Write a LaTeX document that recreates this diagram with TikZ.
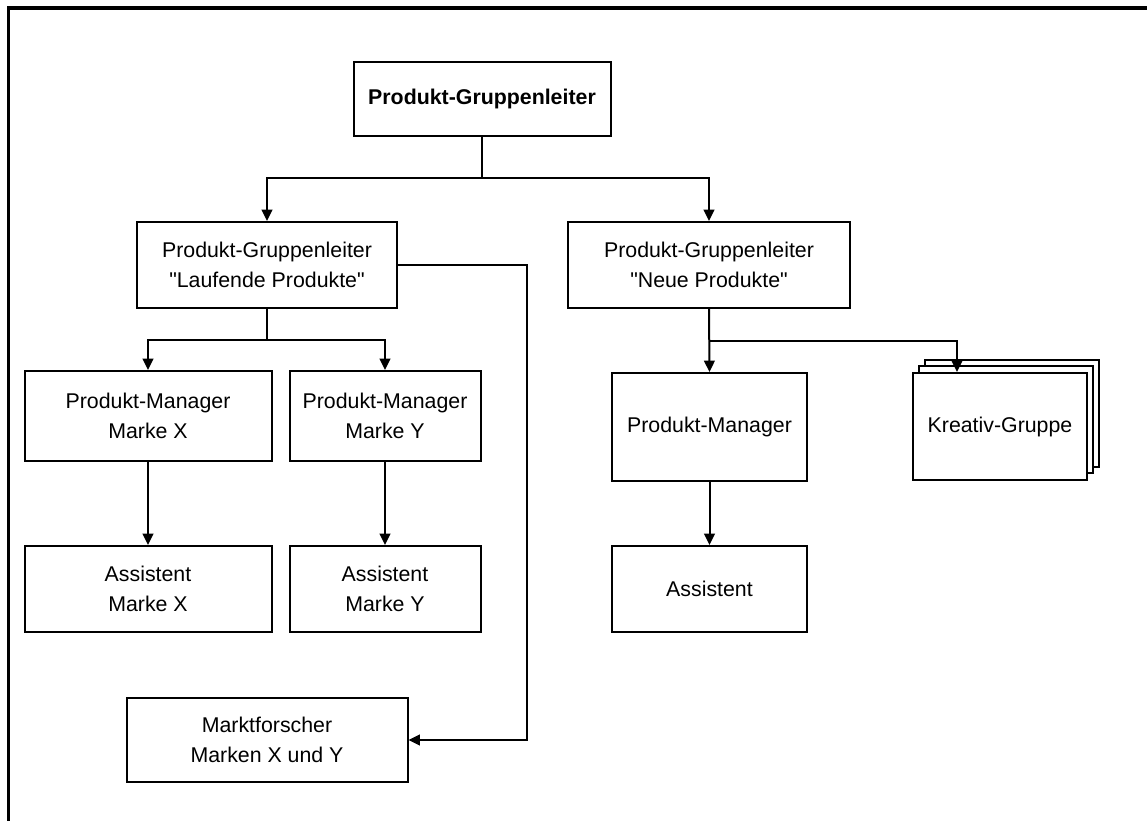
\documentclass[tikz,border=0pt]{standalone}
\usepackage{fontspec}
\setmainfont{Liberation Sans}
\usetikzlibrary{arrows.meta,shadows}
\begin{document}
\begin{tikzpicture}[x=0.75pt,y=-0.75pt,
  line width=1.5pt,
  font=\fontsize{16}{22.5}\selectfont,
  box/.style={draw=black, fill=white, align=center, inner sep=0pt},
  arr/.style={-{Triangle[length=8.5pt,width=8pt]}},
  stack/.style={double copy shadow={shadow xshift=4.6pt, shadow yshift=4.9pt,
      draw=black, fill=white, line width=1.5pt}}]
  \useasboundingbox (0,0) rectangle (1147,821);
  % page frame (top and left edges)
  \draw[line width=2.3pt] (8.7,830) -- (8.7,8) -- (1160,8);

  % boxes
  \node[box, minimum width=192.75pt, minimum height=55pt, font=\fontsize{16}{22.5}\selectfont\bfseries]
    (top) at (482,99) {Produkt-Gruppenleiter};
  \node[box, minimum width=195pt, minimum height=64.5pt] (lauf) at (267,265)
    {Produkt-Gruppenleiter\\\textquotedbl Laufende Produkte\textquotedbl};
  \node[box, minimum width=211.5pt, minimum height=64.5pt] (neue) at (709,265)
    {Produkt-Gruppenleiter\\\textquotedbl Neue Produkte\textquotedbl};
  \node[box, minimum width=185.25pt, minimum height=67.5pt] (pmx) at (148,416)
    {Produkt-Manager\\Marke X};
  \node[box, minimum width=143.25pt, minimum height=67.5pt] (pmy) at (385,416)
    {Produkt-Manager\\Marke Y};
  \node[box, minimum width=185.25pt, minimum height=64.5pt] (asx) at (148,589)
    {Assistent\\Marke X};
  \node[box, minimum width=143.25pt, minimum height=64.5pt] (asy) at (385,589)
    {Assistent\\Marke Y};
  \node[box, minimum width=210.75pt, minimum height=63pt] (mf) at (267,740)
    {Marktforscher\\Marken X und Y};
  \node[box, minimum width=146.25pt, minimum height=81pt] (pm) at (709.5,427)
    {Produkt-Manager};
  \node[box, minimum width=146.25pt, minimum height=64.5pt] (as) at (709.5,589)
    {Assistent};
  \node[box, stack, minimum width=130.5pt, minimum height=80.25pt] (kg) at (1000,426.5)
    {Kreativ-Gruppe};

  % junction points
  \coordinate (j1) at (482,178);
  \coordinate (j2) at (267,340);
  \coordinate (j3) at (709,341);
  \coordinate (r1) at (527,265);
  \coordinate (kin) at (957,0);

  % connectors
  \draw[arr] (top.south) -- (j1) -| (lauf.north);
  \draw[arr] (j1) -| (neue.north);
  \draw[arr] (lauf.south) -- (j2) -| (pmx.north);
  \draw[arr] (j2) -| (pmy.north);
  \draw[arr] (pmx.south) -- (asx.north);
  \draw[arr] (pmy.south) -- (asy.north);
  \draw[arr] (lauf.east) -- (r1) |- (mf.east);
  \draw[arr] (neue.south) -- (pm.north);
  \draw[arr] (j3) -| (kg.north -| kin);
  \draw[arr] (pm.south) -- (as.north);
\end{tikzpicture}
\end{document}
